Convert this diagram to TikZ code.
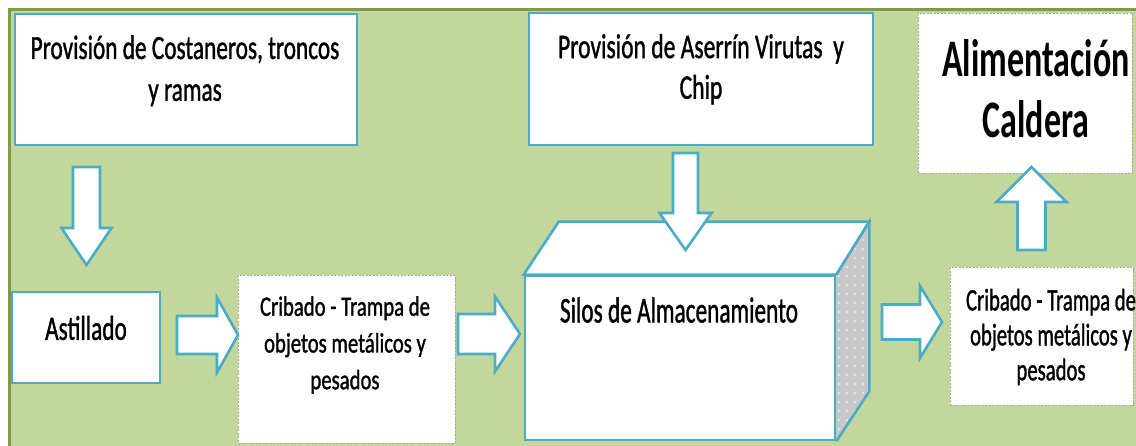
\documentclass[tikz,border=0pt]{standalone}
\usepackage{fontspec}
\setmainfont{Carlito}
\newfontfamily\boxfont{Carlito}[FakeBold=1.4, AutoFakeBold=1.4]
\usetikzlibrary{calc}

\definecolor{bggreen}{HTML}{C3D69B}
\definecolor{framegreen}{HTML}{7F9B48}
\definecolor{aqua}{HTML}{4BACC6}
\definecolor{sidegray}{HTML}{C8C8C8}

\tikzset{
  bluebox/.style={draw=aqua, line width=2.6pt, fill=white, inner sep=0},
  greybox/.style={draw=black!35, line width=.6pt, dash pattern=on 2pt off 1.5pt, fill=white, inner sep=0},
  blockarrow/.style={draw=aqua, line width=2.6pt, fill=white, line join=miter},
  txt/.style={inner sep=0, align=center}
}

% block arrow: from, tip, half shaft, half head, head length
\newcommand{\blockarrow}[5]{%
  \coordinate (ab) at ($(#2)!#5!(#1)$);
  \draw[blockarrow] ($(#1)!#3!90:(#2)$) -- ($(ab)!#3!90:(#2)$) -- ($(ab)!#4!90:(#2)$) -- (#2)
    -- ($(ab)!#4!-90:(#2)$) -- ($(ab)!#3!-90:(#2)$) -- ($(#1)!#3!-90:(#2)$) -- cycle;
}

\begin{document}
\begin{tikzpicture}[x=1pt, y=-1pt]
  \useasboundingbox (0,0) rectangle (1136,445);
  \clip (0,0) rectangle (1136,445);
  \fill [white] (0,0) rectangle (1136,445);
  \draw [fill=bggreen, draw=framegreen, line width=2.5pt] (9.5,9.5) rectangle (1150,460);

  % boxes
  \node [bluebox, minimum width=342pt, minimum height=131pt] (prov1) at (186,79.5) {};
  \node [bluebox, minimum width=344pt, minimum height=132pt] (prov2) at (701,79) {};
  \node [bluebox, minimum width=148pt, minimum height=91pt] (astill) at (86,337.5) {};
  \node [greybox, minimum width=217pt, minimum height=168pt] (crib1) at (346.5,359) {};
  \node [greybox, minimum width=214pt, minimum height=160pt] (calder) at (1025,93) {};
  \node [greybox, minimum width=183pt, minimum height=138pt] (crib2) at (1041.5,336) {};

  % silo
  \node [bluebox, minimum width=310pt, minimum height=164pt] (silo) at (680,358) {};
  \draw [bluebox] (silo.north west) -- ++(35,-53) -- ($(silo.north east)+(33,-53)$) -- (silo.north east) -- cycle;
  \fill [sidegray] (silo.north east) -- ++(33,-53) -- ($(silo.south east)+(33,-50)$) -- (silo.south east) -- cycle;
  \begin{scope}
    \clip (silo.north east) -- ++(33,-53) -- ($(silo.south east)+(33,-50)$) -- (silo.south east) -- cycle;
    \foreach \x in {839, 847, ..., 871}
    {
      \foreach \y in {222, 231, ..., 442}
        \fill [white] (\x,\y) circle (.8pt);
    }
  \end{scope}
  \draw [draw=aqua, line width=2.6pt] (silo.north east) -- ++(33,-53) -- ($(silo.south east)+(33,-50)$) -- (silo.south east);

  % texts
  \node [txt, font=\boxfont\fontsize{23.3pt}{28.8pt}\selectfont, yscale=1.45] (prov1-txt) at (185,70.8) {Provisión de Costaneros, troncos\\y ramas};
  \node [txt, font=\boxfont\fontsize{23.6pt}{27.9pt}\selectfont, yscale=1.46] (prov2-txt) at (701,69.2) {Provisión de Aserrín Virutas~~y\\Chip};
  \node [txt, font=\boxfont\fontsize{23.3pt}{28pt}\selectfont, yscale=1.47] (astill-txt) at (86,328) {Astillado};
  \node [txt, font=\boxfont\fontsize{20.7pt}{27.2pt}\selectfont, yscale=1.35] (crib1-txt) at (345,345) {Cribado - Trampa de\\objetos metálicos y\\pesados};
  \node [txt, font=\boxfont\fontsize{23.3pt}{28pt}\selectfont, yscale=1.55] (silo-txt) at (679,310) {Silos de Almacenamiento};
  \node [txt, font=\fontsize{34pt}{39.4pt}\selectfont\bfseries, yscale=1.55] (calder-txt) at (1036,89) {Alimentación\\Caldera};
  \node [txt, font=\boxfont\fontsize{20.7pt}{23.3pt}\selectfont, yscale=1.5] (crib2-txt) at (1051,337) {Cribado - Trampa de\\objetos metálicos y\\pesados};

  % arrows
  \coordinate (arr1-from) at (86.5,167);
  \coordinate (arr1-to) at (86.5,265);
  \coordinate (arr2-from) at (177,335);
  \coordinate (arr2-to) at (238,335);
  \coordinate (arr3-from) at (458,334);
  \coordinate (arr3-to) at (520,334);
  \coordinate (arr4-from) at (685.5,153);
  \coordinate (arr4-to) at (685.5,250);
  \coordinate (arr5-from) at (882,322);
  \coordinate (arr5-to) at (942,322);
  \coordinate (arr6-from) at (1031.5,250);
  \coordinate (arr6-to) at (1031.5,167);

  \blockarrow{arr1-from}{arr1-to}{13.5pt}{25pt}{37pt}
  \blockarrow{arr2-from}{arr2-to}{19pt}{37.5pt}{21pt}
  \blockarrow{arr3-from}{arr3-to}{20pt}{37.5pt}{25pt}
  \blockarrow{arr4-from}{arr4-to}{12.5pt}{26pt}{37pt}
  \blockarrow{arr5-from}{arr5-to}{17.5pt}{36pt}{22pt}
  \blockarrow{arr6-from}{arr6-to}{14pt}{35pt}{35pt}

\end{tikzpicture}
\end{document}
